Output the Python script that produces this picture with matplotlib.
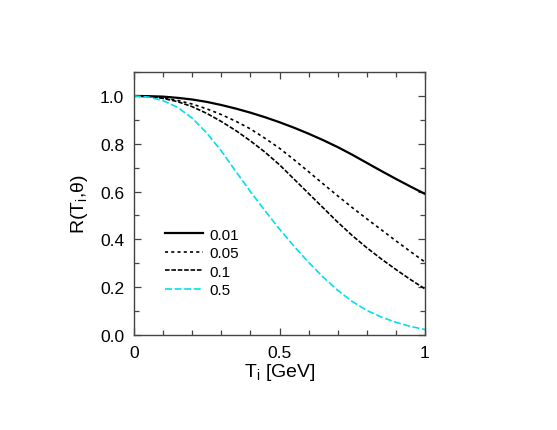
import numpy as np
import matplotlib
matplotlib.use("Agg")
import matplotlib.pyplot as plt
from matplotlib.ticker import MultipleLocator, FixedLocator

plt.rcParams['font.family'] = ['Liberation Sans', 'DejaVu Sans']
plt.rcParams['mathtext.default'] = 'regular'
plt.rcParams['lines.scale_dashes'] = False

# values, T_i in GeV
t_i = [0.0, 0.05, 0.1, 0.15, 0.2, 0.25, 0.3, 0.35, 0.4, 0.45, 0.5,
       0.55, 0.6, 0.65, 0.7, 0.75, 0.8, 0.85, 0.9, 0.95, 1.0]
r_001 = [1.0, 0.999, 0.997, 0.992, 0.985, 0.975, 0.962, 0.947, 0.930, 0.911, 0.890,
         0.867, 0.842, 0.815, 0.786, 0.754, 0.720, 0.686, 0.653, 0.621, 0.590]
r_005 = [1.0, 0.998, 0.992, 0.981, 0.966, 0.946, 0.922, 0.894, 0.862, 0.823, 0.781,
         0.733, 0.683, 0.632, 0.582, 0.533, 0.486, 0.440, 0.394, 0.349, 0.305]
r_01 = [1.0, 0.997, 0.990, 0.976, 0.955, 0.927, 0.893, 0.855, 0.812, 0.765, 0.712,
        0.652, 0.592, 0.532, 0.472, 0.416, 0.365, 0.318, 0.274, 0.232, 0.193]
r_05 = [1.0, 0.995, 0.980, 0.952, 0.907, 0.845, 0.770, 0.684, 0.600, 0.520, 0.443,
        0.371, 0.304, 0.242, 0.187, 0.140, 0.103, 0.075, 0.053, 0.036, 0.023]
labels = ['0.01', '0.05', '0.1', '0.5']

fig = plt.figure(figsize=(5.57, 4.31), dpi=100)
ax = fig.add_axes([0.2406, 0.2204, 0.5224, 0.6102])

ax.plot(t_i, r_001, color='black', lw=1.6, label=labels[0])
l2, = ax.plot(t_i, r_005, color='black', lw=1.2, label=labels[1])
l2.set_dashes((2.2, 2.3))
l3, = ax.plot(t_i, r_01, color='black', lw=1.2, label=labels[2])
l3.set_dashes((3.3, 1.3))
l4, = ax.plot(t_i, r_05, color='#00e0ee', lw=1.2, label=labels[3])
l4.set_dashes((5.0, 1.9))

ax.set_xlim(0, 1)
ax.set_ylim(0, 1.1)
ax.xaxis.set_major_locator(FixedLocator([0, 0.5, 1]))
ax.set_xticklabels(['0', '0.5', '1'])
ax.xaxis.set_minor_locator(MultipleLocator(0.1))
ax.yaxis.set_major_locator(FixedLocator([0, 0.2, 0.4, 0.6, 0.8, 1.0]))
ax.yaxis.set_minor_locator(MultipleLocator(0.1))
ax.tick_params(which='both', direction='in', top=True, right=True,
               width=0.9, color='#444444', labelsize=12.5)
ax.tick_params(which='major', length=5, pad=7)
ax.tick_params(which='minor', length=3.5)
for s in ax.spines.values():
    s.set_color('#444444')
    s.set_linewidth(1.0)

ax.set_xlabel('T$_i$ [GeV]', fontsize=14, labelpad=1)
ax.set_ylabel('R(T$_i$,θ)', fontsize=14, labelpad=7)

ax.legend(loc='center left', bbox_to_anchor=(0.107, 0.276), frameon=False,
          borderpad=0, borderaxespad=0, handlelength=2.5, handletextpad=0.4,
          labelspacing=0.3, fontsize=11)

fig.savefig('out.png', dpi=100)
